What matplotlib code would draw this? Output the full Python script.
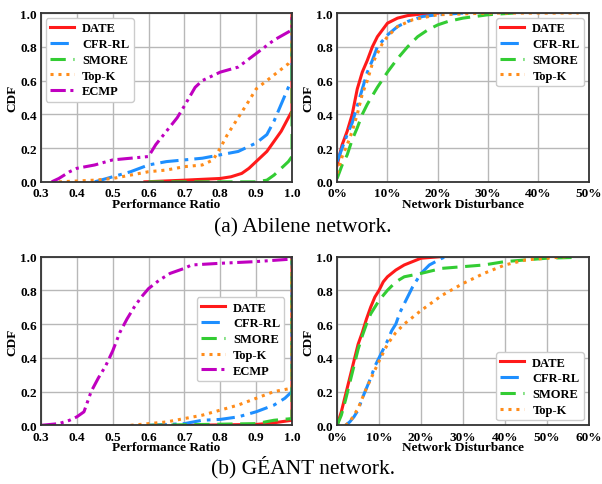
import numpy as np
import matplotlib
matplotlib.use('Agg')
import matplotlib.pyplot as plt
from matplotlib.ticker import FuncFormatter

plt.rcParams['font.family'] = ['Liberation Serif', 'DejaVu Serif']
plt.rcParams['font.weight'] = 'bold'
plt.rcParams['axes.labelweight'] = 'bold'

names = ['DATE', 'CFR-RL', 'SMORE', 'Top-K', 'ECMP']
colors = {'DATE': '#ff1a1a', 'CFR-RL': '#1e8fff', 'SMORE': '#33cc33',
          'Top-K': '#ff8c1a', 'ECMP': '#c000c0'}
styles = {'DATE': dict(linestyle='-'),
          'CFR-RL': dict(linestyle=(0, (6, 2, 1.2, 2))),
          'SMORE': dict(linestyle=(0, (5, 2.5))),
          'Top-K': dict(linestyle=(0, (1, 1.6))),
          'ECMP': dict(linestyle=(0, (5, 1.5, 1, 1.5, 1, 1.5)))}

# (a) Abilene - performance ratio
ab_pr_date_x = [0.59, 0.7, 0.8, 0.83, 0.86, 0.88, 0.9, 0.93, 0.95, 0.97, 0.99, 1.0, 1.0]
ab_pr_date_y = [0.0, 0.01, 0.02, 0.03, 0.05, 0.08, 0.12, 0.18, 0.24, 0.3, 0.38, 0.42, 1.0]
ab_pr_cfr_x = [0.45, 0.5, 0.55, 0.6, 0.65, 0.7, 0.75, 0.8, 0.85, 0.9, 0.93, 0.95, 0.97, 0.99, 1.0, 1.0]
ab_pr_cfr_y = [0.0, 0.03, 0.06, 0.1, 0.12, 0.13, 0.14, 0.16, 0.18, 0.23, 0.28, 0.36, 0.46, 0.56, 0.6, 1.0]
ab_pr_smore_x = [0.6, 0.9, 0.93, 0.95, 0.97, 0.99, 1.0, 1.0]
ab_pr_smore_y = [0.0, 0.0, 0.01, 0.04, 0.08, 0.12, 0.15, 1.0]
ab_pr_topk_x = [0.35, 0.45, 0.5, 0.55, 0.6, 0.65, 0.7, 0.75, 0.78, 0.8, 0.82, 0.85, 0.88, 0.9, 0.93, 0.96, 0.99, 1.0, 1.0]
ab_pr_topk_y = [0.0, 0.01, 0.02, 0.04, 0.06, 0.07, 0.09, 0.1, 0.13, 0.2, 0.28, 0.38, 0.48, 0.55, 0.6, 0.65, 0.7, 0.73, 1.0]
ab_pr_ecmp_x = [0.33, 0.35, 0.38, 0.4, 0.45, 0.5, 0.55, 0.6, 0.62, 0.65, 0.68, 0.7, 0.73, 0.75, 0.8, 0.85, 0.9, 0.95, 1.0, 1.0]
ab_pr_ecmp_y = [0.0, 0.02, 0.06, 0.08, 0.1, 0.13, 0.14, 0.15, 0.22, 0.3, 0.38, 0.45, 0.56, 0.6, 0.65, 0.68, 0.76, 0.84, 0.9, 1.0]

# (a) Abilene - network disturbance
ab_nd_date_x = [0.0, 0.01, 0.02, 0.03, 0.04, 0.05, 0.06, 0.07, 0.08, 0.09, 0.1, 0.12, 0.14, 0.17, 0.2]
ab_nd_date_y = [0.1, 0.22, 0.3, 0.4, 0.55, 0.65, 0.72, 0.8, 0.86, 0.9, 0.94, 0.97, 0.985, 0.995, 1.0]
ab_nd_cfr_x = [0.0, 0.01, 0.02, 0.03, 0.04, 0.05, 0.06, 0.07, 0.08, 0.1, 0.12, 0.14, 0.17, 0.2, 0.25]
ab_nd_cfr_y = [0.12, 0.2, 0.28, 0.35, 0.45, 0.55, 0.65, 0.72, 0.8, 0.87, 0.92, 0.95, 0.98, 0.99, 1.0]
ab_nd_smore_x = [0.0, 0.01, 0.02, 0.03, 0.04, 0.05, 0.06, 0.08, 0.1, 0.12, 0.14, 0.16, 0.18, 0.2, 0.22, 0.25, 0.3, 0.35]
ab_nd_smore_y = [0.02, 0.1, 0.16, 0.25, 0.32, 0.4, 0.46, 0.56, 0.65, 0.73, 0.8, 0.86, 0.9, 0.93, 0.95, 0.97, 0.99, 1.0]
ab_nd_topk_x = [0.0, 0.01, 0.02, 0.03, 0.04, 0.05, 0.06, 0.07, 0.08, 0.09, 0.1, 0.12, 0.15, 0.2, 0.3, 0.48]
ab_nd_topk_y = [0.05, 0.15, 0.22, 0.3, 0.4, 0.52, 0.6, 0.7, 0.76, 0.82, 0.86, 0.92, 0.96, 0.99, 1.0, 1.0]

# (b) GEANT - performance ratio
ge_pr_date_x = [0.7, 0.9, 0.95, 1.0, 1.0]
ge_pr_date_y = [0.0, 0.005, 0.015, 0.03, 1.0]
ge_pr_cfr_x = [0.6, 0.7, 0.75, 0.8, 0.85, 0.9, 0.95, 0.98, 1.0, 1.0]
ge_pr_cfr_y = [0.0, 0.01, 0.03, 0.035, 0.05, 0.08, 0.12, 0.16, 0.2, 1.0]
ge_pr_smore_x = [0.6, 0.9, 0.95, 1.0, 1.0]
ge_pr_smore_y = [0.0, 0.01, 0.03, 0.04, 1.0]
ge_pr_topk_x = [0.55, 0.6, 0.65, 0.7, 0.75, 0.8, 0.85, 0.9, 0.95, 1.0, 1.0]
ge_pr_topk_y = [0.0, 0.01, 0.02, 0.04, 0.06, 0.09, 0.12, 0.16, 0.2, 0.22, 1.0]
ge_pr_ecmp_x = [0.3, 0.35, 0.38, 0.4, 0.42, 0.44, 0.46, 0.48, 0.5, 0.52, 0.54, 0.56, 0.58, 0.6, 0.63, 0.66, 0.7, 0.72, 0.8, 0.9, 1.0, 1.0]
ge_pr_ecmp_y = [0.0, 0.01, 0.03, 0.05, 0.08, 0.2, 0.28, 0.35, 0.44, 0.55, 0.63, 0.7, 0.76, 0.81, 0.86, 0.9, 0.93, 0.95, 0.96, 0.97, 0.985, 1.0]

# (b) GEANT - network disturbance
ge_nd_date_x = [0.0, 0.01, 0.02, 0.03, 0.04, 0.05, 0.06, 0.07, 0.08, 0.09, 0.1, 0.11, 0.12, 0.14, 0.16, 0.18, 0.2, 0.25]
ge_nd_date_y = [0.0, 0.08, 0.18, 0.28, 0.38, 0.48, 0.55, 0.63, 0.7, 0.76, 0.8, 0.85, 0.88, 0.92, 0.95, 0.97, 0.99, 1.0]
ge_nd_cfr_x = [0.02, 0.03, 0.04, 0.05, 0.06, 0.07, 0.08, 0.09, 0.1, 0.11, 0.12, 0.13, 0.14, 0.15, 0.16, 0.18, 0.2, 0.22, 0.25, 0.26]
ge_nd_cfr_y = [0.0, 0.02, 0.05, 0.09, 0.16, 0.22, 0.28, 0.35, 0.4, 0.45, 0.5, 0.56, 0.6, 0.67, 0.72, 0.82, 0.9, 0.95, 0.99, 1.0]
ge_nd_smore_x = [0.0, 0.01, 0.02, 0.03, 0.04, 0.05, 0.06, 0.07, 0.08, 0.09, 0.1, 0.12, 0.14, 0.16, 0.2, 0.25, 0.3, 0.35, 0.4, 0.45, 0.5, 0.57]
ge_nd_smore_y = [0.0, 0.06, 0.15, 0.25, 0.35, 0.45, 0.53, 0.6, 0.66, 0.7, 0.74, 0.8, 0.85, 0.88, 0.9, 0.93, 0.94, 0.95, 0.97, 0.98, 0.99, 0.995]
ge_nd_topk_x = [0.02, 0.03, 0.05, 0.07, 0.1, 0.12, 0.14, 0.16, 0.2, 0.25, 0.3, 0.35, 0.4, 0.45, 0.5, 0.55]
ge_nd_topk_y = [0.0, 0.02, 0.1, 0.22, 0.38, 0.48, 0.55, 0.6, 0.68, 0.77, 0.84, 0.9, 0.95, 0.98, 0.99, 1.0]

fig = plt.figure(figsize=(6.02, 4.85), dpi=100)

L1, W1 = 0.068, 0.417
L2, W2 = 0.560, 0.418
B_top, H = 0.623, 0.348
B_bot = 0.121

ax1 = fig.add_axes([L1, B_top, W1, H])
ax2 = fig.add_axes([L2, B_top, W2, H])
ax3 = fig.add_axes([L1, B_bot, W1, H])
ax4 = fig.add_axes([L2, B_bot, W2, H])

pct = FuncFormatter(lambda v, p: '%d%%' % round(v * 100))


def draw(ax, series, xlim, xticks, xlabel, legend_loc, percent=False, bbox=None):
    for name, (x, y) in series.items():
        ax.plot(x, y, color=colors[name], linewidth=2.2, label=name, **styles[name])
    ax.set_xlim(*xlim)
    ax.set_ylim(0, 1)
    ax.set_xticks(xticks)
    ax.set_yticks(np.arange(0, 1.01, 0.2))
    ax.yaxis.set_major_formatter(FuncFormatter(lambda v, p: '%.1f' % v))
    if percent:
        ax.xaxis.set_major_formatter(pct)
    else:
        ax.xaxis.set_major_formatter(FuncFormatter(lambda v, p: '%.1f' % v))
    ax.grid(True, color='#b8b8b8', linewidth=1)
    ax.set_axisbelow(True)
    ax.tick_params(labelsize=9.5, length=0, pad=3)
    ax.tick_params(axis='x', pad=4)
    for s in ax.spines.values():
        s.set_linewidth(1.3)
        s.set_color('#333333')
    ax.set_xlabel(xlabel, fontsize=9.5, labelpad=-1)
    ax.set_ylabel('CDF', fontsize=9.5, labelpad=1)
    kw = dict(loc=legend_loc, fontsize=9, handlelength=1.9, borderpad=0.35,
              labelspacing=0.3, handletextpad=0.65, borderaxespad=0.4,
              framealpha=1, fancybox=True)
    if bbox is not None:
        kw['bbox_to_anchor'] = bbox
    leg = ax.legend(**kw)
    leg.get_frame().set_edgecolor('#cccccc')


draw(ax1, {'DATE': (ab_pr_date_x, ab_pr_date_y),
           'CFR-RL': (ab_pr_cfr_x, ab_pr_cfr_y),
           'SMORE': (ab_pr_smore_x, ab_pr_smore_y),
           'Top-K': (ab_pr_topk_x, ab_pr_topk_y),
           'ECMP': (ab_pr_ecmp_x, ab_pr_ecmp_y)},
     (0.3, 1.0), np.arange(0.3, 1.01, 0.1), 'Performance Ratio', 'upper left')

draw(ax2, {'DATE': (ab_nd_date_x, ab_nd_date_y),
           'CFR-RL': (ab_nd_cfr_x, ab_nd_cfr_y),
           'SMORE': (ab_nd_smore_x, ab_nd_smore_y),
           'Top-K': (ab_nd_topk_x, ab_nd_topk_y)},
     (0, 0.5), np.arange(0, 0.51, 0.1), 'Network Disturbance', 'upper right', percent=True)

draw(ax3, {'DATE': (ge_pr_date_x, ge_pr_date_y),
           'CFR-RL': (ge_pr_cfr_x, ge_pr_cfr_y),
           'SMORE': (ge_pr_smore_x, ge_pr_smore_y),
           'Top-K': (ge_pr_topk_x, ge_pr_topk_y),
           'ECMP': (ge_pr_ecmp_x, ge_pr_ecmp_y)},
     (0.3, 1.0), np.arange(0.3, 1.01, 0.1), 'Performance Ratio', 'center right',
     bbox=(0.99, 0.51))

draw(ax4, {'DATE': (ge_nd_date_x, ge_nd_date_y),
           'CFR-RL': (ge_nd_cfr_x, ge_nd_cfr_y),
           'SMORE': (ge_nd_smore_x, ge_nd_smore_y),
           'Top-K': (ge_nd_topk_x, ge_nd_topk_y)},
     (0, 0.6), np.arange(0, 0.61, 0.1), 'Network Disturbance', 'lower right', percent=True)

fig.text(0.503, 0.530, '(a) Abilene network.', ha='center', va='center',
         fontsize=15.5, fontweight='normal')
fig.text(0.503, 0.037, '(b) GÉANT network.', ha='center', va='center',
         fontsize=15.5, fontweight='normal')

fig.savefig('out.png', dpi=100)
